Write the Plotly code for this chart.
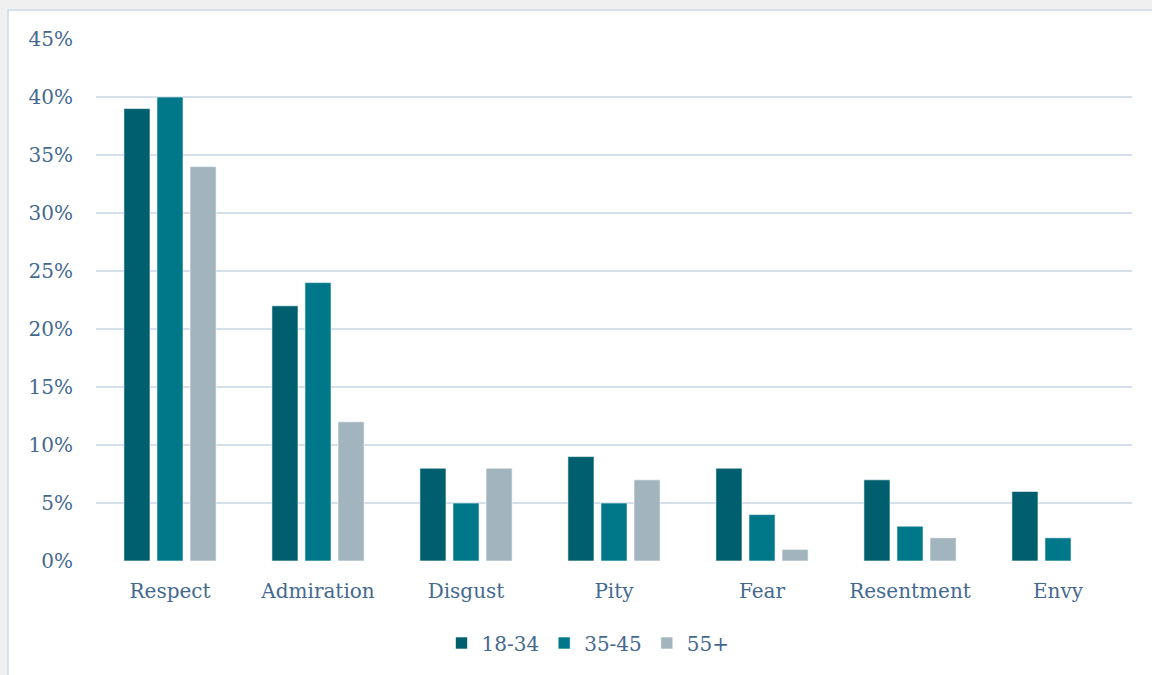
import plotly.graph_objects as go

categories = ["Respect", "Admiration", "Disgust", "Pity", "Fear", "Resentment", "Envy"]
series_names = ["18-34", "35-45", "55+"]
v_18_34 = [39, 22, 8, 9, 8, 7, 6]
v_35_45 = [40, 24, 5, 5, 4, 3, 2]
v_55p = [34, 12, 8, 7, 1, 2, 0]
colors = ["#005F6E", "#00788A", "#A2B4BD"]
tick_vals = [0, 5, 10, 15, 20, 25, 30, 35, 40, 45]
tick_text = [f"{v}%" for v in tick_vals]

W, H = 1152, 675
L, R, T, B = 96, 20, 39, 114
pw, ph = W - L - R, H - T - B

fig = go.Figure()
for name, vals, c in zip(series_names, [v_18_34, v_35_45, v_55p], colors):
    fig.add_trace(go.Bar(x=categories, y=vals, name=name, marker_color=c,
                         marker_line_color="rgba(255,255,255,0.6)", marker_line_width=1))

def px_x(p):
    return (p - L) / pw

def px_y(p):
    return (H - B - p) / ph

fig.add_shape(type="rect", xref="paper", yref="paper",
              x0=px_x(8), x1=px_x(1160), y0=px_y(690), y1=px_y(10),
              fillcolor="white", line=dict(color="#d6e1ec", width=2), layer="below")

font = dict(family="DejaVu Serif", size=20, color="#44698F")
fig.update_layout(
    width=W, height=H,
    margin=dict(l=L, r=R, t=T, b=B),
    paper_bgcolor="#F0F0F0", plot_bgcolor="rgba(0,0,0,0)",
    barmode="group", bargap=0.33, bargroupgap=0.21,
    font=font,
    legend=dict(orientation="h", x=px_x(588), xanchor="center", y=px_y(643), yanchor="middle",
                font=font, itemwidth=30, traceorder="normal", bgcolor="rgba(0,0,0,0)"),
    xaxis=dict(showgrid=False, showline=False, ticks="", tickfont=font, ticklabelstandoff=16),
    yaxis=dict(range=[0, 45], tickvals=tick_vals, ticktext=tick_text, showgrid=True,
               gridcolor="#D5E0EA", gridwidth=2, zeroline=False, showline=False,
               tickfont=font, ticklabelstandoff=22),
)
fig.write_html("out.html", config={"displayModeBar": False},
               post_script="document.body.style.margin='0';document.body.style.background='#F0F0F0';")
